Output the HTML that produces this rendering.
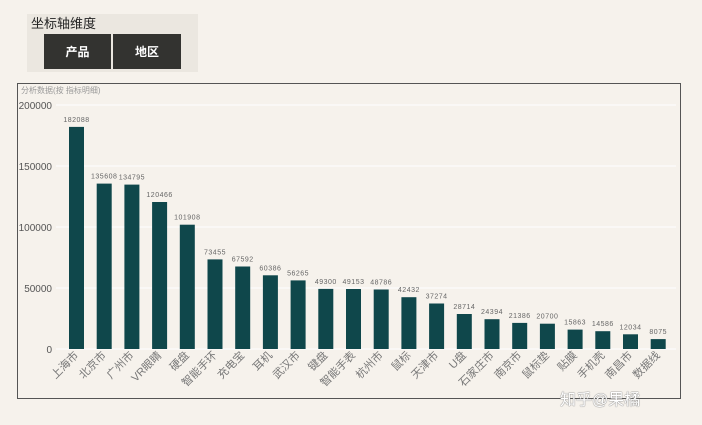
<!DOCTYPE html>
<html><head><meta charset="utf-8"><style>
body{margin:0;background:#f6f2ec;width:702px;height:425px;overflow:hidden;font-family:"Liberation Sans","Noto Sans CJK SC",sans-serif;}
</style></head><body>
<svg width="702" height="425" xmlns="http://www.w3.org/2000/svg" style="position:absolute;left:0;top:0" font-family="Liberation Sans, Noto Sans CJK SC, sans-serif">
<rect x="27" y="14" width="171" height="58" fill="#ebe7e0"/>
<text x="31" y="28" font-size="13" fill="#222">坐标轴维度</text>
<rect x="44" y="34" width="67" height="35" fill="#333330"/>
<rect x="113" y="34" width="68" height="35" fill="#333330"/>
<text x="77.5" y="56" font-size="12" fill="#fff" text-anchor="middle" font-weight="bold">产品</text>
<text x="147" y="56" font-size="12" fill="#fff" text-anchor="middle" font-weight="bold">地区</text>
<rect x="17.5" y="83.5" width="663" height="315" fill="none" stroke="#555" stroke-width="1"/>
<text x="21" y="93" font-size="8" fill="#999">分析数据(按 指标明细)</text>
<g stroke="#fff" stroke-width="1">
<line x1="56" x2="676" y1="105" y2="105"/><line x1="56" x2="676" y1="166" y2="166"/>
<line x1="56" x2="676" y1="227" y2="227"/><line x1="56" x2="676" y1="288" y2="288"/>
<line x1="56" x2="676" y1="349" y2="349"/></g>
<g font-size="10" fill="#555" text-anchor="end">
<text x="52" y="109">200000</text><text x="52" y="170">150000</text><text x="52" y="231">100000</text><text x="52" y="292">50000</text><text x="52" y="353">0</text></g>
<g id="bars"></g>
</svg>
<script>
var d=[["上海市",182088],["北京市",135608],["广州市",134795],["VR眼睛",120466],["硬盘",101908],["智能手环",73455],["充电宝",67592],["耳机",60386],["武汉市",56265],["键盘",49300],["智能手表",49153],["杭州市",48786],["鼠标",42432],["天津市",37274],["U盘",28714],["石家庄市",24394],["南京市",21386],["鼠标垫",20700],["贴膜",15863],["手机壳",14586],["南昌市",12034],["数据线",8075]];
var s="";
d.forEach(function(e,i){var x=69+i*27.7;var h=e[1]/200000*244;var y=349-h;
s+='<rect x="'+x.toFixed(1)+'" y="'+y.toFixed(1)+'" width="15" height="'+h.toFixed(1)+'" fill="#0f474b"/>';
s+='<text x="'+(x+7.5).toFixed(1)+'" y="'+(y-5).toFixed(1)+'" font-size="7" fill="#666" text-anchor="middle" letter-spacing="0.5">'+e[1]+'</text>';
var cx=x+10,cy=356;
s+='<text transform="translate('+cx.toFixed(1)+','+cy+') rotate(-45)" font-size="11" fill="#777" text-anchor="end">'+e[0]+'</text>';});
document.getElementById("bars").innerHTML=s;
</script>
<div style="position:absolute;left:560px;top:386px;font-size:16px;color:#fff;text-shadow:0 0 1px #777,0 0 1px #777;font-family:'Liberation Sans','Noto Sans CJK SC',sans-serif">知乎@果橘</div>
</body></html>
